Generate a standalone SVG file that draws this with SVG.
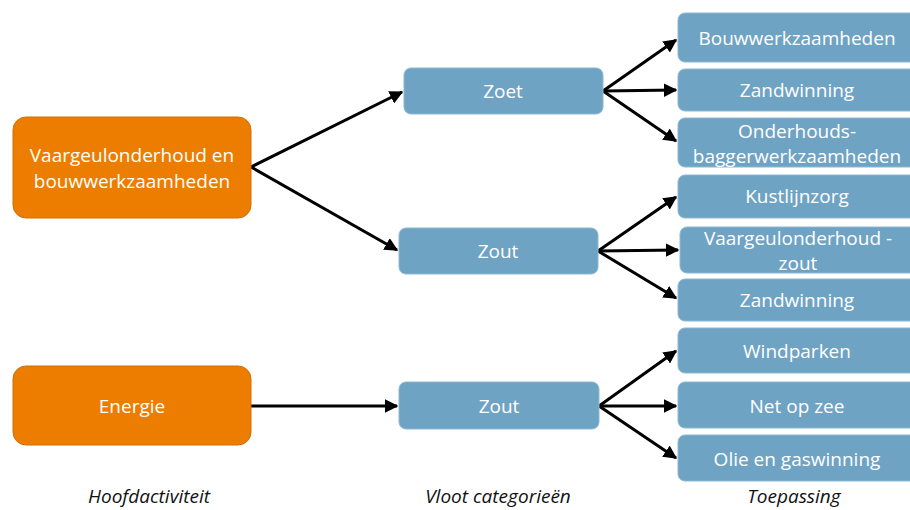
<svg xmlns="http://www.w3.org/2000/svg" width="910" height="510" viewBox="0 0 910 510">
<style>
.o{fill:#ED7D00;stroke:#D06E05;stroke-width:1}
.b{fill:#6FA3C4;stroke:#8DB8D4;stroke-width:1}
.t{font-family:"Open Sans","Liberation Sans",sans-serif;font-size:19px;fill:#fff;text-anchor:middle}
.l{font-family:"Open Sans","Liberation Sans",sans-serif;font-size:19px;font-style:italic;fill:#111;text-anchor:middle}
.c line{stroke:#000;stroke-width:3;marker-end:url(#a)}
</style>
<defs>
<marker id="a" viewBox="0 0 10 10" refX="9" refY="5" markerWidth="4.5" markerHeight="4.5" orient="auto" markerUnits="strokeWidth">
<path d="M0,0 L10,5 L0,10 z" fill="#000"/>
</marker>
</defs>
<g class="c">
<line x1="251" y1="167" x2="402" y2="92"/>
<line x1="251" y1="167" x2="397" y2="250"/>
<line x1="251" y1="406" x2="397" y2="406"/>
<line x1="603" y1="91" x2="676" y2="40"/>
<line x1="603" y1="91" x2="676" y2="90"/>
<line x1="603" y1="91" x2="676" y2="141"/>
<line x1="598" y1="251" x2="676" y2="197"/>
<line x1="598" y1="251" x2="678" y2="250"/>
<line x1="598" y1="251" x2="676" y2="298"/>
<line x1="599" y1="406" x2="676" y2="351"/>
<line x1="599" y1="406" x2="676" y2="406"/>
<line x1="599" y1="406" x2="676" y2="458"/>
</g>
<g id="n1"><rect class="o" x="13" y="117" width="238" height="101" rx="13"/><text class="t" x="132" y="162">Vaargeulonderhoud en</text><text class="t" x="132" y="188">bouwwerkzaamheden</text></g>
<g id="n2"><rect class="o" x="13" y="366" width="238" height="79" rx="13"/><text class="t" x="132" y="413">Energie</text></g>
<g id="n3"><rect class="b" x="404" y="68" width="199" height="46" rx="7"/><text class="t" x="503" y="98">Zoet</text></g>
<g id="n4"><rect class="b" x="399" y="228" width="199" height="46" rx="7"/><text class="t" x="498" y="258">Zout</text></g>
<g id="n5"><rect class="b" x="399" y="382" width="200" height="47" rx="7"/><text class="t" x="499" y="413">Zout</text></g>
<g id="n6"><rect class="b" x="678" y="13" width="240" height="49" rx="7"/><text class="t" x="797" y="45">Bouwwerkzaamheden</text></g>
<g id="n7"><rect class="b" x="678" y="69" width="240" height="42" rx="7"/><text class="t" x="797" y="97">Zandwinning</text></g>
<g id="n8"><rect class="b" x="678" y="118" width="240" height="49" rx="7"/><text class="t" x="797" y="138">Onderhouds-</text><text class="t" x="797" y="163">baggerwerkzaamheden</text></g>
<g id="n9"><rect class="b" x="678" y="175" width="240" height="43" rx="7"/><text class="t" x="797" y="203">Kustlijnzorg</text></g>
<g id="n10"><rect class="b" x="680" y="227" width="240" height="46" rx="7"/><text class="t" x="798" y="245">Vaargeulonderhoud -</text><text class="t" x="798" y="270">zout</text></g>
<g id="n11"><rect class="b" x="678" y="279" width="240" height="42" rx="7"/><text class="t" x="797" y="307">Zandwinning</text></g>
<g id="n12"><rect class="b" x="678" y="328" width="240" height="45" rx="7"/><text class="t" x="797" y="358">Windparken</text></g>
<g id="n13"><rect class="b" x="678" y="382" width="240" height="46" rx="7"/><text class="t" x="797" y="413">Net op zee</text></g>
<g id="n14"><rect class="b" x="678" y="435" width="240" height="46" rx="7"/><text class="t" x="797" y="466">Olie en gaswinning</text></g>
<text class="l" x="149" y="503">Hoofdactiviteit</text>
<text class="l" x="498" y="503">Vloot categorieën</text>
<text class="l" x="794" y="503">Toepassing</text>
</svg>
